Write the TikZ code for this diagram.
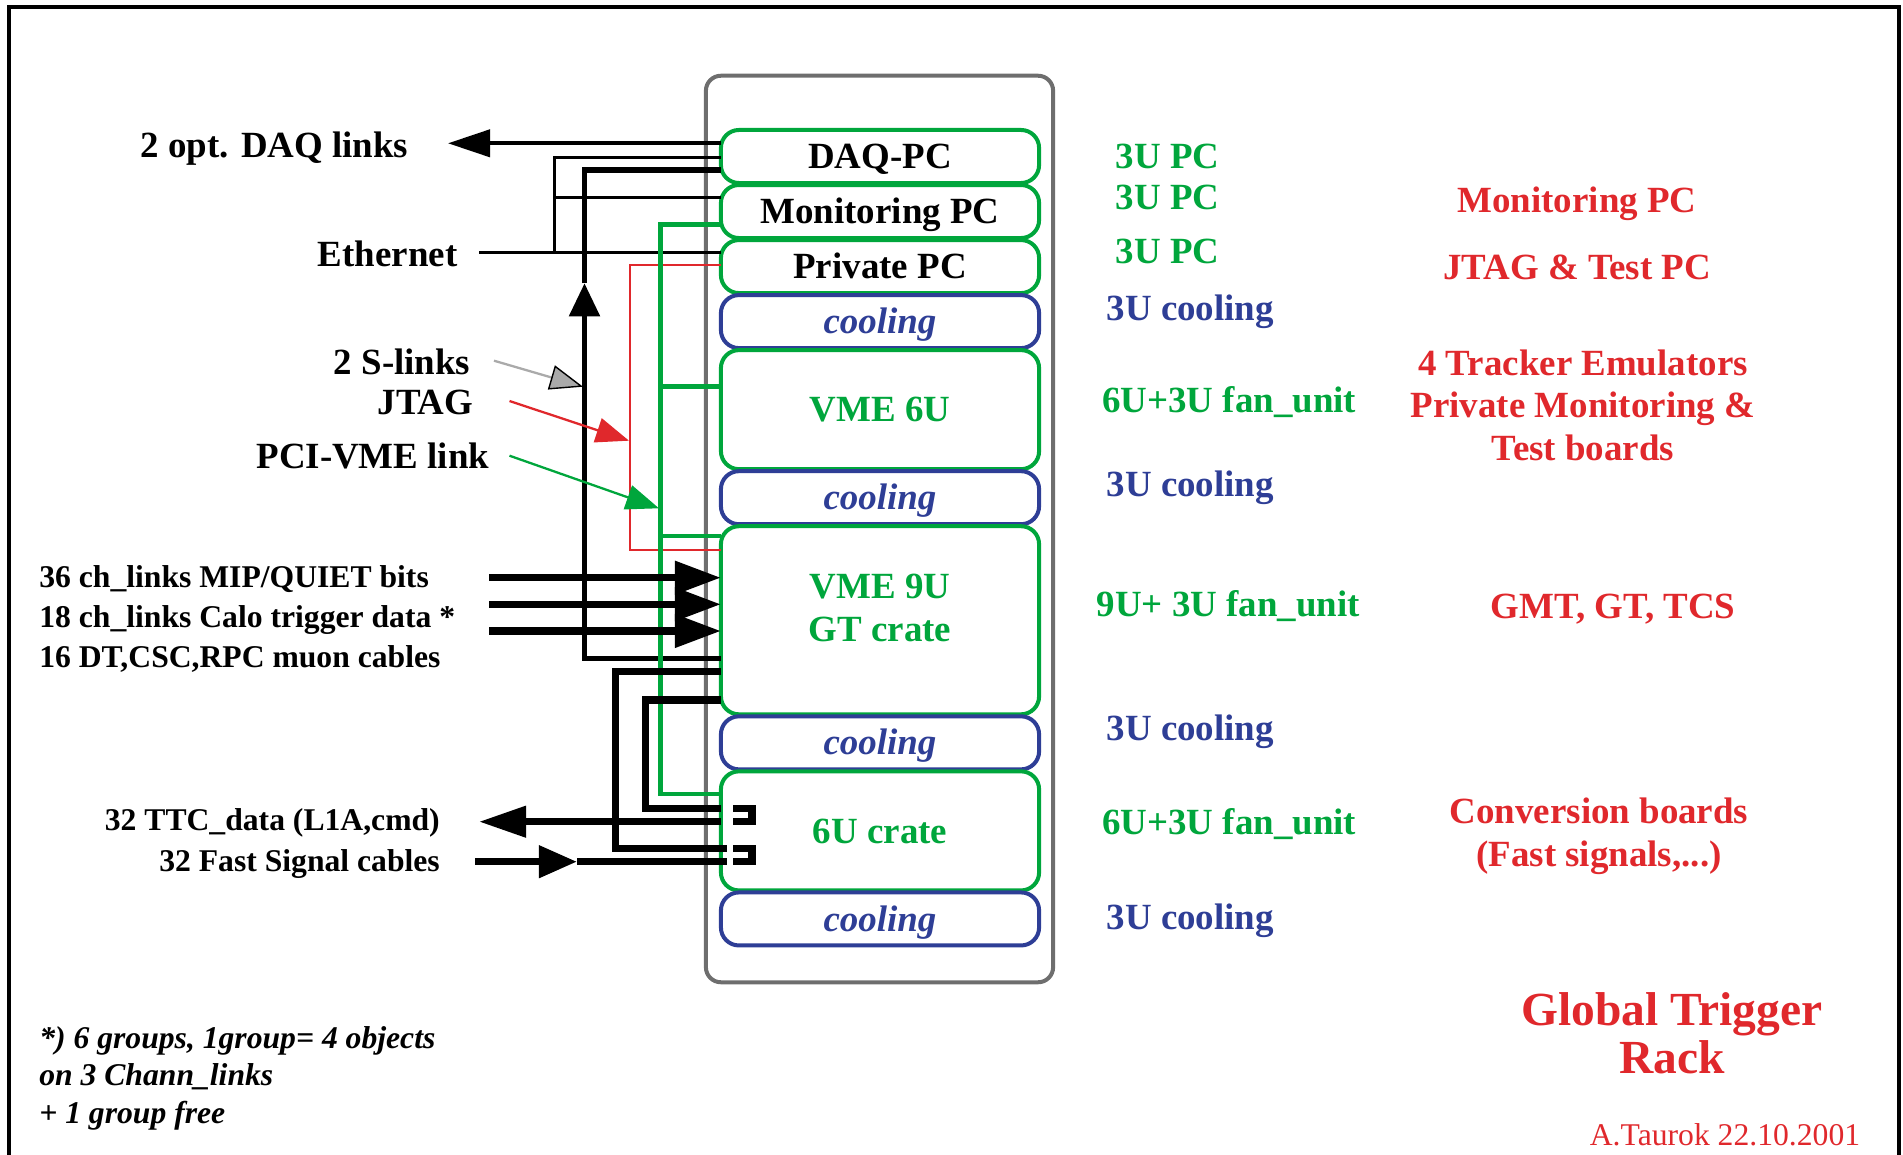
\documentclass[tikz,border=0pt]{standalone}
\usepackage{fontspec}
\setmainfont{Liberation Serif}
\usetikzlibrary{arrows.meta,positioning}
\definecolor{rkgreen}{RGB}{0,166,60}
\definecolor{rkred}{RGB}{224,40,44}
\definecolor{rkblue}{RGB}{46,62,150}
\definecolor{rkgray}{RGB}{110,110,110}
\definecolor{slgray}{RGB}{170,170,170}

\begin{document}
\begin{tikzpicture}[
  x=0.01cm, y=-0.01cm,
  node distance=0.02cm,
  lbl/.style={
    font=\fontsize{10.5}{12.1}\selectfont\bfseries,
    inner sep=0pt,text height=6.9pt,text depth=0pt
  },
  cablelbl/.style={
    font=\fontsize{9}{10.7}\selectfont\bfseries,
    inner sep=0pt,text height=5.9pt,text depth=0pt
  },
  rackunit/.style={
    lbl,draw,fill=white,line width=1.14pt,rounded corners=0.18cm,
    minimum width=3.18cm,minimum height=0.53cm,outer sep=0pt
  },
  pcunit/.style={rackunit,draw=rkgreen},
  crate/.style={rackunit,draw=rkgreen,text=rkgreen},
  coolunit/.style={
    rackunit,draw=rkblue,text=rkblue,
    font=\fontsize{10.5}{12.1}\selectfont\bfseries\itshape
  },
  sizelbl/.style={lbl,anchor=west},
  noteblock/.style={lbl,rkred,align=center},
  daqarrow/.style={line width=1.14pt,-{Triangle[length=0.42cm,width=0.27cm]}},
  eth/.style={line width=0.77pt},
  slink/.style={line width=1.5pt},
  pcivme/.style={rkgreen,line width=1.34pt},
  jtagline/.style={rkred,line width=0.65pt},
  cable/.style={line width=2.08pt},
  cablein/.style={cable,-{Triangle[length=0.46cm,width=0.32cm]}},
  pointer/.style={line width=0.65pt,-{Triangle[length=0.33cm,width=0.25cm]}}
]
\useasboundingbox (0,0) rectangle (1903,1155);

% ---- sheet frame (open at the bottom) ----
\draw[line width=0.94pt] (9,1155) |- (1899,7) -- (1899,1155);

% ---- the rack and its units ----
\node[draw=rkgray,line width=1.14pt,rounded corners=0.15cm,
  minimum width=3.47cm,minimum height=9.06cm,inner sep=0pt,outer sep=0pt]
  (rack) at (879.5,529) {};

\node[pcunit] (daq) at (880,156.5) {DAQ-PC};
\node[pcunit,below=of daq] (mon) {Monitoring PC};
\node[pcunit,below=of mon] (priv) {Private PC};
\node[coolunit,below=of priv] (coolA) {cooling};
\node[crate,minimum height=1.19cm,below=of coolA] (vmesix) {VME 6U};
\node[coolunit,below=of vmesix] (coolB) {cooling};
\node[crate,minimum height=1.88cm,below=of coolB] (vmenine) {};
\node[lbl,rkgreen,align=center] (vmeninetxt) at ([yshift=-0.09cm]vmenine.center)
  {VME 9U\\GT crate};
\node[coolunit,below=of vmenine] (coolC) {cooling};
\node[crate,minimum height=1.19cm,below=of coolC] (sixu) {6U crate};
\node[coolunit,below=of sixu] (coolD) {cooling};

% ---- heights, right of the rack ----
\node[sizelbl,rkgreen] (hdaq) at (1115,156) {3U PC};
\node[sizelbl,rkgreen] (hmon) at (1115,197) {3U PC};
\node[sizelbl,rkgreen] (hpriv) at (1115,251) {3U PC};
\node[sizelbl,rkblue] (hcoolA) at (1106,308) {3U cooling};
\node[sizelbl,rkgreen] (hsix) at (1101.5,400.5) {6U+3U fan\_unit};
\node[sizelbl,rkblue] (hcoolB) at (1106,484) {3U cooling};
\node[sizelbl,rkgreen] (hnine) at (1096,604) {9U+ 3U fan\_unit};
\node[sizelbl,rkblue] (hcoolC) at (1106,728) {3U cooling};
\node[sizelbl,rkgreen] (hsixu) at (1101.5,822) {6U+3U fan\_unit};
\node[sizelbl,rkblue] (hcoolD) at (1106,917.5) {3U cooling};

% ---- contents (multi-line nodes sit on their last line) ----
\node[noteblock] (nmon) at (1577,200) {Monitoring PC};
\node[noteblock] (npriv) at (1577,267) {JTAG \& Test PC};
\node[noteblock] (nsix) at (1583,448)
  {4 Tracker Emulators\\Private Monitoring \&\\Test boards};
\node[noteblock] (nnine) at (1613,606) {GMT, GT, TCS};
\node[noteblock] (nsixu) at (1599,854) {Conversion boards\\(Fast signals,...)};

\node[noteblock,font=\fontsize{13.5}{13.7}\selectfont\bfseries,text height=8.9pt]
  (title) at (1672,1057.6) {Global Trigger\\Rack};
\node[rkred,font=\fontsize{9}{10.7}\selectfont,inner sep=0pt,
  text height=5.9pt,text depth=0pt] (author) at (1725,1135) {A.Taurok 22.10.2001};

% ---- labels on the left ----
\node[lbl,anchor=east] (daqlbl) at (409,145) {2 opt. DAQ links};
\node[lbl,anchor=east] (ethlbl) at (458,254) {Ethernet};
\node[lbl,anchor=east] (slinklbl) at (471,362) {2 S-links};
\node[lbl,anchor=east] (jtaglbl) at (474,402) {JTAG};
\node[lbl,anchor=east] (pcilbl) at (490,456) {PCI-VME link};

\node[cablelbl,anchor=west] (muA) at (38.6,577) {36 ch\_links MIP/QUIET bits};
\node[cablelbl,anchor=west] (muB) at (38.6,617) {18 ch\_links Calo trigger data *};
\node[cablelbl,anchor=west] (muC) at (38.6,657.5) {16 DT,CSC,RPC muon cables};
\node[cablelbl,anchor=east] (ttclbl) at (440.5,820) {32 TTC\_data (L1A,cmd)};
\node[cablelbl,anchor=east] (fastlbl) at (440.5,861) {32 Fast Signal cables};

\node[cablelbl,font=\fontsize{9}{10.7}\selectfont\bfseries\itshape,
  anchor=west,align=left] (foot) at (38.6,1112.9)
  {*) 6 groups, 1group= 4 objects\\on 3 Chann\_links\\+ 1 group free};

% ---- DAQ and Ethernet ----
\coordinate (daqtip) at (448,143.3);
\coordinate (ethend) at (479,252.3);
\coordinate (ethbus) at (554.3,157.3);
\coordinate (ethmon) at (554.3,197.3);

\draw[daqarrow] (daq.west |- daqtip) -- (daqtip);
\draw[eth] (ethend) -- (priv.west |- ethend);
\draw[eth] (ethbus |- ethend) -- (ethbus) -- (daq.west |- ethbus);
\draw[eth] (ethmon) -- (mon.west |- ethmon);

% ---- S-links ----
\coordinate (sltop) at (584.5,170);
\coordinate (slmid) at (584.5,283.3);
\coordinate (slbot) at (584.5,658.3);

\draw[slink,-{Triangle[length=0.33cm,width=0.30cm]}]
  (vmenine.west |- slbot) -- (slbot) -- (slmid);
\draw[slink] (slmid) -- (sltop) -- (daq.west |- sltop);

% ---- JTAG and PCI-VME ----
\coordinate (jtagtop) at (630,265);
\coordinate (jtagbot) at (630,550);
\draw[jtagline] (priv.west |- jtagtop) -- (jtagtop) -- (jtagbot) -- (vmenine.west |- jtagbot);

\coordinate (pcitop) at (660.7,224.3);
\coordinate (pcisix) at (660.7,386.7);
\coordinate (pcinine) at (660.7,536);
\coordinate (pcibot) at (660.7,794);
\draw[pcivme] (mon.west |- pcitop) -- (pcitop) -- (pcibot) -- (sixu.west |- pcibot);
\draw[pcivme] (pcisix) -- (vmesix.west |- pcisix);
\draw[pcivme] (pcinine) -- (vmenine.west |- pcinine);

% ---- pointers from the labels ----
\coordinate (slfrom) at (494,360.7);
\coordinate (slhit) at (583,386.7);
\coordinate (jtfrom) at (509.5,401);
\coordinate (jthit) at (629,440.7);
\coordinate (pcfrom) at (509.5,455.7);
\coordinate (pchit) at (659,508.3);

\draw[pointer,slgray,-{Triangle[length=0.33cm,width=0.25cm,fill=slgray,color=black,line width=0.4pt]}]
  (slfrom) -- (slhit);
\draw[pointer,rkred] (jtfrom) -- (jthit);
\draw[pointer,rkgreen] (pcfrom) -- (pchit);

% ---- muon / calo cables into the GT crate ----
\foreach \yy/\nm in {577.7/A,604.3/B,631/C}{
  \coordinate (in\nm) at (489,\yy);
  \draw[cablein] (in\nm) -- (vmenine.west |- in\nm);
}

% ---- GT crate <-> 6U crate, TTC and fast signals ----
\coordinate (loopA) at (615.7,671.7);
\coordinate (loopAb) at (615.7,848.3);
\coordinate (loopB) at (645.7,700);
\coordinate (loopBb) at (645.7,808.3);
\coordinate (ttctip) at (479,821.7);
\coordinate (fastbeg) at (475,861.7);
\coordinate (fastmid) at (577,861.7);

\draw[cable] (vmenine.west |- loopA) -- (loopA) -- (loopAb) -- ([xshift=0.06cm]sixu.west |- loopAb);
\draw[cable] (vmenine.west |- loopB) -- (loopB) -- (loopBb) -- (sixu.west |- loopBb);
\draw[cable,-{Triangle[length=0.47cm,width=0.30cm]}] (sixu.west |- ttctip) -- (ttctip);
\draw[cable,-{Triangle[length=0.38cm,width=0.31cm]}] (fastbeg) -- (fastmid);
\draw[cable] (fastmid) -- ([xshift=0.06cm]sixu.west |- fastmid);

% connector ends inside the 6U crate
\coordinate (brA) at (733,808.3);
\coordinate (brB) at (733,848.3);
\draw[cable] (brA) -- ++(19,0) -- ++(0,13.4) -- ++(-19,0);
\draw[cable] (brB) -- ++(19,0) -- ++(0,13.4) -- ++(-19,0);

\end{tikzpicture}
\end{document}
